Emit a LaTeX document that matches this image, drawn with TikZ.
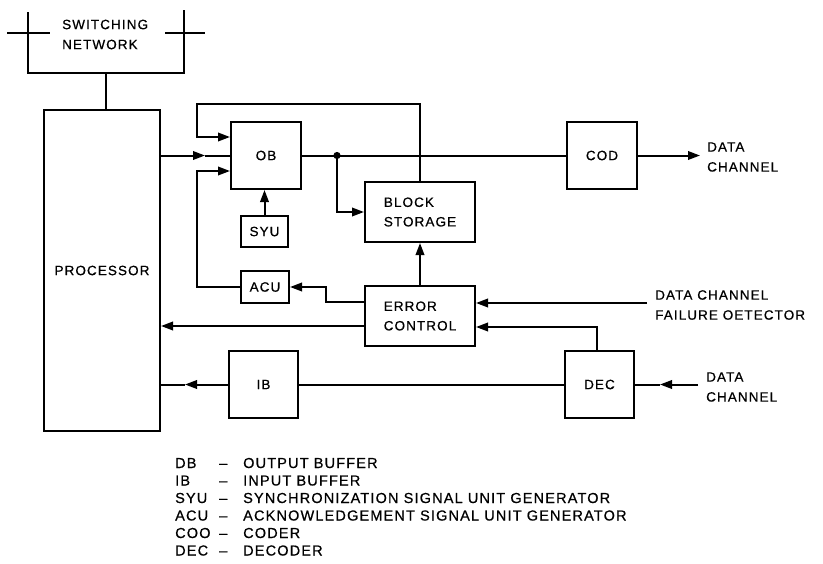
\documentclass[tikz,border=0pt]{standalone}
\usepackage{fontspec}
\setmainfont{Liberation Sans}[LetterSpace=8,FakeBold=0.6]
\usetikzlibrary{arrows.meta,calc}
\begin{document}
\begin{tikzpicture}[x=1pt,y=-1pt,
  wire/.style={line width=2pt, line join=miter},
  arr/.style={wire, -{Triangle[length=12pt,width=8.5pt]}},
  box/.style={draw, line width=2pt, inner sep=0pt, align=center,
    font=\fontsize{13.5}{19.5}\selectfont},
  lbl/.style={inner sep=0pt, align=left, anchor=west,
    font=\fontsize{13.5}{20}\selectfont},
  leg/.style={inner sep=0pt, anchor=base west, font=\fontsize{14.5}{16}\selectfont}]
\useasboundingbox (0,0) rectangle (823,563);

% switching network
\draw[wire] (7,33) -- (50,33);
\draw[wire] (165,33) -- (205,33);
\draw[wire] (28,12) -- (28,73) -- (184,73) -- (184,10);
\node[lbl] (sw) at (62,34.5) {SWITCHING\\NETWORK};
\coordinate (swb) at (106,73);

% boxes
\node[box, minimum width=116pt, minimum height=321pt] (proc) at (102,270.5) {PROCESSOR};
\node[box, minimum width=70pt, minimum height=67pt] (ob) at (266,155.5) {OB};
\node[box, minimum width=47pt, minimum height=31pt] (syu) at (264.5,231.5) {SYU};
\node[box, minimum width=48pt, minimum height=32pt] (acu) at (265,287) {ACU};
\node[box, minimum width=110pt, minimum height=60pt, align=left] (bs) at (420,212) {BLOCK\\STORAGE};
\node[box, minimum width=110pt, minimum height=60pt, align=left] (ec) at (420,316) {ERROR\\CONTROL};
\node[box, minimum width=70pt, minimum height=67pt] (cod) at (602,155.5) {COD};
\node[box, minimum width=69pt, minimum height=67pt] (ib) at (263.5,384.5) {IB};
\node[box, minimum width=69pt, minimum height=67pt] (dec) at (599.5,384.5) {DEC};

\node[lbl] (dc1) at (707,157) {DATA\\CHANNEL};
\node[lbl] (fdl) at (655,305) {DATA CHANNEL\\FAILURE OETECTOR};
\node[lbl] (dc2) at (706,387) {DATA\\CHANNEL};

% coordinates
\coordinate (loopA) at (197,104);
\coordinate (loopB) at (197,137);
\coordinate (loopC) at (197,171);
\coordinate (parr) at (205,155.5);
\coordinate (j) at (337,155.5);
\coordinate (dcout) at (700,155.5);
\coordinate (e1) at (326,302);
\coordinate (e3) at (326,326);
\coordinate (d1) at (597,327);
\coordinate (fd) at (647,303);
\coordinate (dcin) at (698,384.5);
\coordinate (dcarr) at (660,384.5);
\coordinate (ibarr) at (185,384.5);

% connectors
\draw[wire] (swb) -- (swb |- proc.north);
\draw[arr] (proc.east |- ob.west) -- (parr);
\draw[wire] (parr) -- (ob.west);
\draw[arr] (bs.north) |- (loopA) |- (ob.west |- loopB);
\draw[arr] (acu.west) -| (loopC) -- (ob.west |- loopC);
\draw[arr] (syu.north) -- (syu.north |- ob.south);
\draw[wire] (ob.east) -- (cod.west);
\fill (j) circle (3.6);
\draw[arr] (j) |- (bs.west);
\draw[arr] (cod.east) -- (dcout);
\draw[arr] (ec.north) -- (bs.south);
\draw[arr] (ec.west |- e1) -- (e1) |- (acu.east);
\draw[arr] (ec.west |- e3) -- (proc.east |- e3);
\draw[wire] (dec.west) -- (ib.east);
\draw[arr] (ib.west) -- (ibarr);
\draw[wire] (ibarr) -- (proc.east |- ibarr);
\draw[arr] (d1 |- dec.north) -- (d1) -- (ec.east |- d1);
\draw[arr] (fd) -- (ec.east |- fd);
\draw[arr] (dcin) -- (dcarr);
\draw[wire] (dcarr) -- (dec.east);

% legend
\foreach \ab/\de [count=\i from 0] in {DB/OUTPUT BUFFER, IB/INPUT BUFFER,
  SYU/SYNCHRONIZATION SIGNAL UNIT GENERATOR, ACU/ACKNOWLEDGEMENT SIGNAL UNIT GENERATOR,
  COO/CODER, DEC/DECODER}{
  \node[leg] (ab\i) at (175,468+17.5*\i) {\ab};
  \node[leg] (da\i) at (219,468+17.5*\i) {\textendash};
  \node[leg] (de\i) at (243,468+17.5*\i) {\de};
}
\end{tikzpicture}
\end{document}
